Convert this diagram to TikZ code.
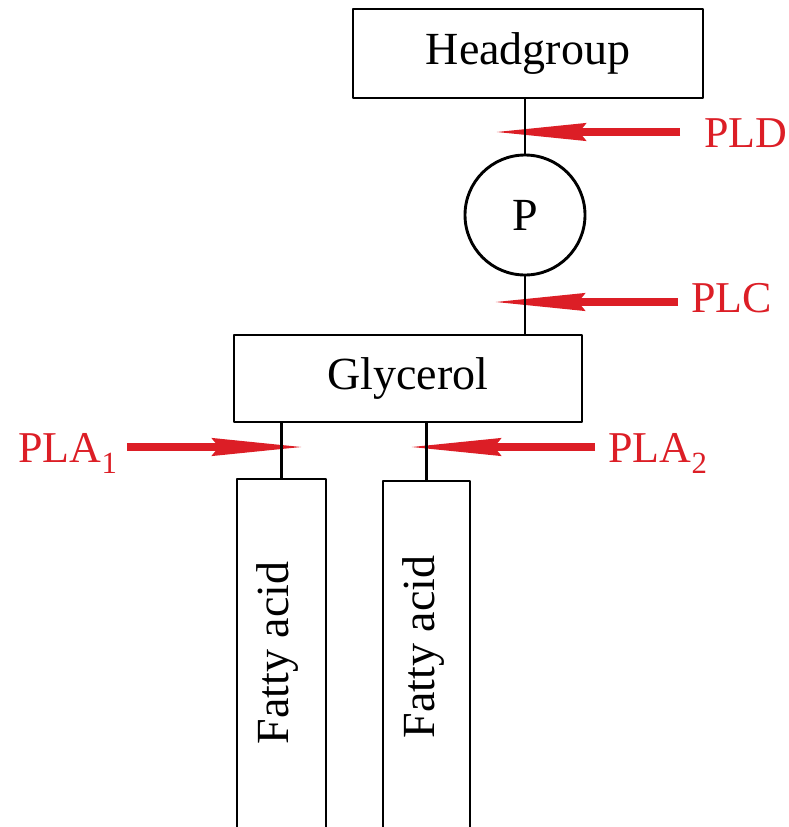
\documentclass[tikz,border=0pt]{standalone}
\usepackage{fontspec}
\setmainfont{Liberation Serif}
\usetikzlibrary{arrows.meta}
\definecolor{enzred}{RGB}{220,30,38}
\begin{document}
\begin{tikzpicture}[x=1pt, y=-1pt, line join=round, line width=2.9pt,
  box/.style={draw, rectangle, inner sep=0pt, font=\fontsize{46}{50}\selectfont},
  enz/.style={text=enzred, inner sep=0pt, font=\fontsize{44}{48}\selectfont},
  cut/.style={draw=enzred, line width=8pt, -{Stealth[length=92pt, width=17pt, inset=6pt]}}]
% page, lower ends of the fatty acids run off it
\useasboundingbox (0,0) rectangle (789,827);
\clip (0,0) rectangle (789,827);
% the boxes
\node[box, minimum width=350pt, minimum height=89pt] (hg) at (528,53.5) {Headgroup};
\node[box, circle, minimum size=120pt] (P) at (525,215) {P};
\node[box, minimum width=348pt, minimum height=87pt] (gly) at (408,378.5) {Glycerol};
\node[box, minimum width=89pt, minimum height=381pt] (fa1) at (281.5,669.5) {};
\node[box, minimum width=87pt, minimum height=379pt] (fa2) at (426.5,670.5) {};
\node[box, draw=none, rotate=90] (fa1txt) at (278,653) {Fatty acid};
\node[box, draw=none, rotate=90] (fa2txt) at (423,647) {Fatty acid};
% enzymes and where they cut
\node[enz, anchor=base west] (pld) at (703,147) {PLD};
\node[enz, anchor=base west] (plc) at (690,312) {PLC};
\node[enz, anchor=base west] (pla1) at (17,462) {PLA\textsubscript{1}};
\node[enz, anchor=base west] (pla2) at (607,462) {PLA\textsubscript{2}};
\coordinate (dsite) at (493,132);
\coordinate (csite) at (492,302);
\coordinate (a1site) at (305,447);
\coordinate (a2site) at (408,447);
\draw[cut, shorten <=23pt] (pld.west |- dsite) -- (dsite);
\draw[cut, shorten <=12pt] (plc.west |- csite) -- (csite);
\draw[cut, shorten <=8pt] (pla1.east |- a1site) -- (a1site);
\draw[cut, shorten <=12pt] (pla2.west |- a2site) -- (a2site);
% bonds
\draw (P.north) -- (P.north |- hg.south);
\draw (P.south) -- (P.south |- gly.north);
\foreach \f in {fa1,fa2}
\draw (gly.south -| \f.north) -- (\f.north);
\end{tikzpicture}
\end{document}
